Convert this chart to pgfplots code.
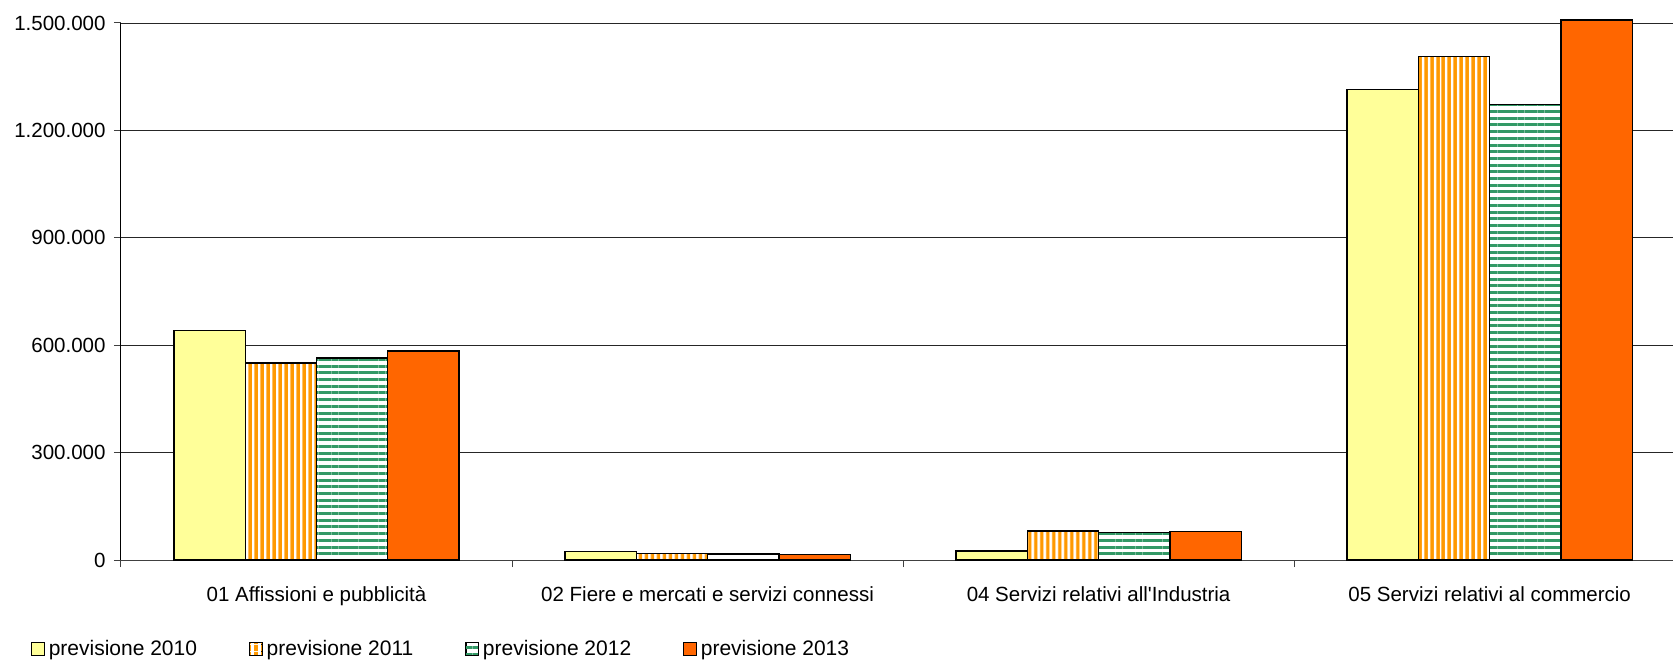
\documentclass[border=0pt]{standalone}
\usepackage{fontspec}
\setmainfont{Liberation Sans}
\usepackage{pgfplots}
\pgfplotsset{compat=1.18}
\usetikzlibrary{patterns.meta}

\definecolor{c2010}{HTML}{FFFF99}
\definecolor{c2011}{HTML}{FF9900}
\definecolor{c2012}{HTML}{339966}
\definecolor{c2013}{HTML}{FF6600}

\newcommand{\chartfont}{\fontsize{20.5}{24}\selectfont}

\begin{document}
\begin{tikzpicture}
\useasboundingbox (-121pt,-101pt) rectangle (1552pt,560pt);
\begin{axis}[
    at={(0pt,0pt)}, anchor=south west,
    scale only axis,
    width=1552pt, height=537pt,
    ybar=0pt, bar width=71.3pt,
    xmin=-0.5, xmax=3.469,
    ymin=0, ymax=1500000,
    clip=false,
    axis x line=bottom, axis y line=left,
    x axis line style={-, draw=black!75, line width=1pt},
    y axis line style={-, draw=black, line width=1pt},
    xtick={0,1,2,3},
    xticklabels={01 Affissioni e pubblicità,
                 02 Fiere e mercati e servizi connessi,
                 04 Servizi relativi all\textquotesingle Industria,
                 05 Servizi relativi al commercio},
    xtick style={draw=none},
    extra x ticks={-0.5,0.5,1.5,2.5},
    extra x tick style={xticklabel={}, xtick style={draw=black!75, line width=1pt}},
    ytick={0,300000,600000,900000,1200000,1500000},
    ytick style={draw=black!75, line width=1pt},
    tick align=outside, major tick length=7pt,
    ymajorgrids, grid style={black!85, line width=0.8pt},
    scaled y ticks=false,
    tick label style={font=\chartfont},
    xticklabel style={anchor=base, yshift=-34pt},
    yticklabel style={xshift=-5pt, /pgf/number format/fixed,
        /pgf/number format/precision=0,
        /pgf/number format/1000 sep={.},
        /pgf/number format/assume math mode=true},
    legend columns=4,
    legend style={at={(0,0)}, anchor=west, xshift=-90pt, yshift=-89pt,
        draw=none, fill=none, inner sep=0pt,
        font=\fontsize{21}{25}\selectfont,
        nodes={inner sep=0pt},
        /tikz/every odd column/.append style={column sep=4pt},
        /tikz/every even column/.append style={column sep=52pt}},
    legend image code/.code={\draw[#1, line width=1.1pt] (0pt,-6.5pt) rectangle (12.5pt,6.5pt);},
]
\addplot[draw=black, line width=1.3pt, fill=c2010]
    coordinates {(0,642000) (1,24000) (2,25000) (3,1315000)};
\addplot[draw=black, line width=1.3pt, preaction={fill=white},
    pattern={Lines[angle=90,distance=6.4pt,line width=3.8pt]}, pattern color=c2011]
    coordinates {(0,550000) (1,19000) (2,81000) (3,1407000)};
\addplot[draw=black, line width=1.3pt, preaction={fill=white},
    pattern={Lines[angle=0,distance=6.7pt,line width=3pt]}, pattern color=c2012]
    coordinates {(0,564000) (1,17000) (2,77000) (3,1273000)};
\addplot[draw=black, line width=1.3pt, fill=c2013]
    coordinates {(0,584000) (1,15000) (2,79000) (3,1508000)};
\legend{previsione 2010, previsione 2011, previsione 2012, previsione 2013}
\end{axis}
\end{tikzpicture}
\end{document}
